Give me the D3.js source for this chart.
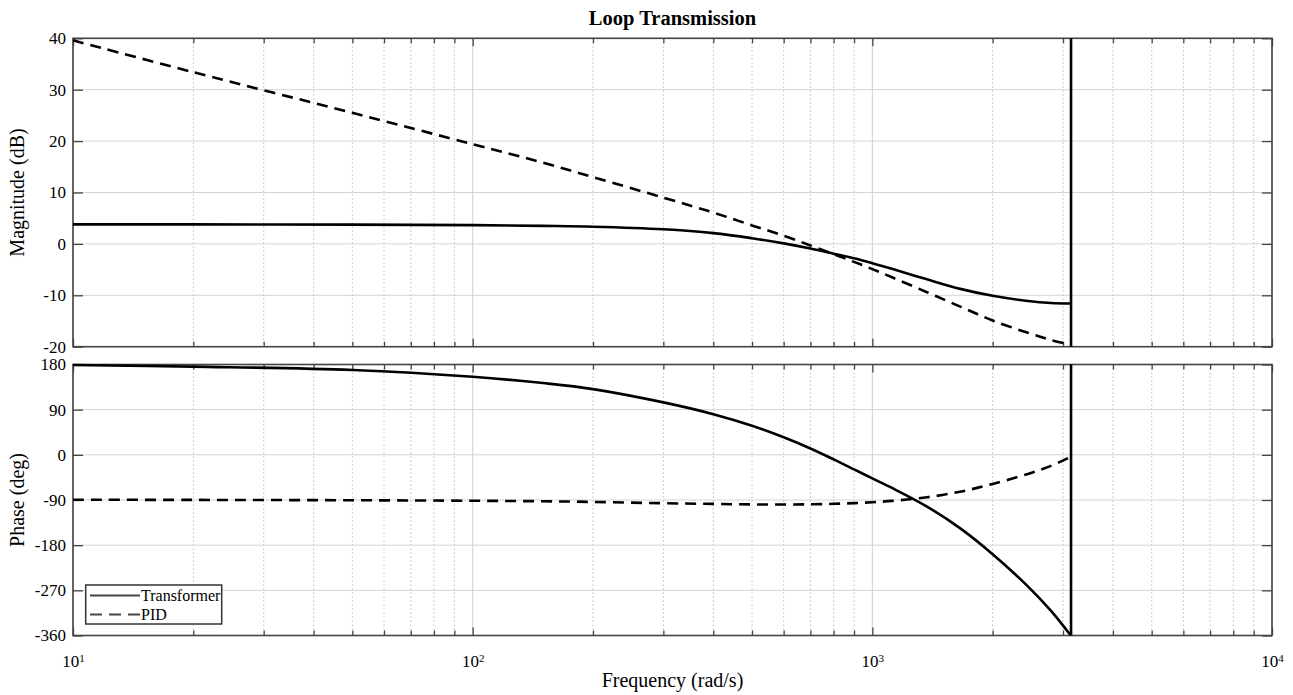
<!DOCTYPE html>
<html><head><meta charset="utf-8">
<script src="https://cdn.jsdelivr.net/npm/d3@7"></script>
<style>
html,body{margin:0;padding:0;background:#fff;}
svg{display:block;font-family:"Liberation Serif","Times New Roman",serif;}
</style></head>
<body>
<svg id="chart" width="1293" height="695"></svg>
<script>
// ---------- data ----------
const freq = [10, 20, 50, 100, 150, 200, 300, 400, 500, 600, 700, 800, 900, 1000, 1120, 1370, 1670, 2000, 2450, 2800, 3130];
const transformerMag = [3.8, 3.8, 3.75, 3.65, 3.5, 3.35, 2.85, 2.1, 1.1, 0.1, -0.9, -1.9, -2.8, -3.75, -4.85, -6.9, -8.8, -10.1, -11.1, -11.5, -11.6];
const pidMag = [39.6, 33.4, 25.5, 19.4, 15.8, 13.0, 9.0, 6.1, 3.6, 1.6, -0.3, -2.0, -3.5, -4.9, -6.5, -9.4, -12.3, -14.9, -17.3, -18.7, -19.6];
const transformerPh = [179, 175.7, 169, 155.5, 143, 131, 104.5, 81, 58, 35, 12.7, -9, -29, -47, -66, -103, -148, -198, -262, -311, -359];
const pidPh = [-89.5, -89.8, -90.5, -91.5, -92.5, -93.8, -96.4, -97.8, -98.8, -99, -98.6, -97.6, -96.2, -94.4, -91.8, -84.5, -73, -58, -38, -22, -4];
const nyquist = 3141.6;
const magTicks = [-20, -10, 0, 10, 20, 30, 40];
const phTicks = [-360, -270, -180, -90, 0, 90, 180];
const decades = [10, 100, 1000, 10000];
const seriesNames = ["Transformer", "PID"];
const title = "Loop Transmission";
const xLabel = "Frequency (rad/s)";
const magLabel = "Magnitude (dB)";
const phLabel = "Phase (deg)";

// ---------- layout ----------
const svg = d3.select("#chart");
const L = 73, R = 1272;
const magTop = 38.3, magBot = 346.7, phTop = 364.5, phBot = 635.5;
const x = d3.scaleLog().domain([10, 1e4]).range([L, R]);
const yMag = d3.scaleLinear().domain([-20, 40]).range([magBot, magTop]);
const yPh = d3.scaleLinear().domain([-360, 180]).range([phBot, phTop]);

const minors = [];
for (let d = 10; d < 1e4; d *= 10) for (let k = 2; k <= 9; k++) minors.push(d * k);

function panel(y, ticks, top, bot, showX) {
  const g = svg.append("g");
  g.selectAll(".hg").data(ticks).join("line")
    .attr("x1", L).attr("x2", R).attr("y1", d => y(d)).attr("y2", d => y(d))
    .attr("stroke", "#d4d4d4").attr("stroke-width", 1);
  g.selectAll(".vm").data(minors).join("line")
    .attr("x1", d => x(d)).attr("x2", d => x(d)).attr("y1", top).attr("y2", bot)
    .attr("stroke", "#bdbdbd").attr("stroke-width", 1).attr("stroke-dasharray", "1.5,2.5");
  g.selectAll(".vM").data(decades).join("line")
    .attr("x1", d => x(d)).attr("x2", d => x(d)).attr("y1", top).attr("y2", bot)
    .attr("stroke", "#d0d0d0").attr("stroke-width", 1);
  const ax = g.append("g").attr("class", "axes");
  const yl = ax.append("g").attr("transform", `translate(${L},0)`)
    .call(d3.axisLeft(y).tickValues(ticks).tickSizeInner(-10).tickSizeOuter(0).tickPadding(7).tickFormat(d => String(d)));
  yl.selectAll("text").attr("font-size", "17px").attr("fill", "#000").attr("font-family", "Liberation Serif");
  ax.append("g").attr("transform", `translate(${R},0)`)
    .call(d3.axisRight(y).tickValues(ticks).tickSizeInner(-10).tickSizeOuter(0).tickFormat(""));
  ax.append("g").attr("transform", `translate(0,${top})`)
    .call(d3.axisTop(x).tickValues(minors).tickSizeInner(-5).tickSizeOuter(0).tickFormat(""));
  ax.append("g").attr("transform", `translate(0,${top})`)
    .call(d3.axisTop(x).tickValues(decades).tickSizeInner(-8).tickSizeOuter(0).tickFormat(""));
  ax.append("g").attr("transform", `translate(0,${bot})`)
    .call(d3.axisBottom(x).tickValues(minors).tickSizeInner(-5).tickSizeOuter(0).tickFormat(""));
  const xb = ax.append("g").attr("transform", `translate(0,${bot})`)
    .call(d3.axisBottom(x).tickValues(decades).tickSizeInner(-8).tickSizeOuter(0).tickPadding(19).tickFormat(showX ? (d => "10") : ""));
  if (showX) {
    xb.selectAll("text").attr("font-size", "17px").attr("fill", "#000").attr("font-family", "Liberation Serif")
      .each(function (d) {
        const t = d3.select(this);
        t.text("");
        t.append("tspan").text("10");
        t.append("tspan").attr("dy", "-0.45em").attr("font-size", "11px").text(Math.round(Math.log10(d)));
      });
  }
  ax.selectAll(".domain").remove();
  ax.selectAll(".tick line").attr("stroke", "#444").attr("stroke-width", 1.3);
  g.append("rect").attr("x", L).attr("y", top).attr("width", R - L).attr("height", bot - top)
    .attr("fill", "none").attr("stroke", "#444").attr("stroke-width", 1.6);
  return g;
}

const gMag = panel(yMag, magTicks, magTop, magBot, false);
const gPh = panel(yPh, phTicks, phTop, phBot, true);

function curve(g, y, vals, dashed) {
  const line = d3.line().x(d => x(d[0])).y(d => y(d[1])).curve(d3.curveCatmullRom.alpha(0.5));
  g.append("path").datum(freq.map((f, i) => [f, vals[i]]))
    .attr("d", line).attr("fill", "none").attr("stroke", "#000").attr("stroke-width", 2.6)
    .attr("stroke-dasharray", dashed ? "11,7" : null);
}
curve(gMag, yMag, transformerMag, false);
curve(gMag, yMag, pidMag, true);
curve(gPh, yPh, transformerPh, false);
curve(gPh, yPh, pidPh, true);

[[gMag, magTop, magBot], [gPh, phTop, phBot]].forEach(([g, t, b]) => {
  g.append("line").attr("x1", x(nyquist)).attr("x2", x(nyquist)).attr("y1", t).attr("y2", b)
    .attr("stroke", "#000").attr("stroke-width", 2.6);
});

const lg = svg.append("g");
lg.append("rect").attr("x", 85.7).attr("y", 585).attr("width", 136).attr("height", 39)
  .attr("fill", "#fff").attr("stroke", "#333").attr("stroke-width", 1.5);
seriesNames.forEach((name, i) => {
  const yy = 595.5 + i * 19;
  lg.append("line").attr("x1", 90).attr("x2", 140).attr("y1", yy).attr("y2", yy)
    .attr("stroke", "#444").attr("stroke-width", 2.2).attr("stroke-dasharray", i ? "12,7" : null);
  lg.append("text").attr("x", 141).attr("y", yy + 5.5).attr("font-size", "16px").attr("fill", "#000").text(name);
});

svg.append("text").attr("x", (L + R) / 2).attr("y", 25).attr("text-anchor", "middle")
  .attr("font-size", "20.5px").attr("font-weight", "bold").text(title);
svg.append("text").attr("x", (L + R) / 2).attr("y", 687).attr("text-anchor", "middle")
  .attr("font-size", "20px").text(xLabel);
svg.append("text").attr("transform", `translate(24,${(magTop + magBot) / 2}) rotate(-90)`)
  .attr("text-anchor", "middle").attr("font-size", "20px").text(magLabel);
svg.append("text").attr("transform", `translate(24,${(phTop + phBot) / 2}) rotate(-90)`)
  .attr("text-anchor", "middle").attr("font-size", "20px").text(phLabel);
</script>
</body></html>
